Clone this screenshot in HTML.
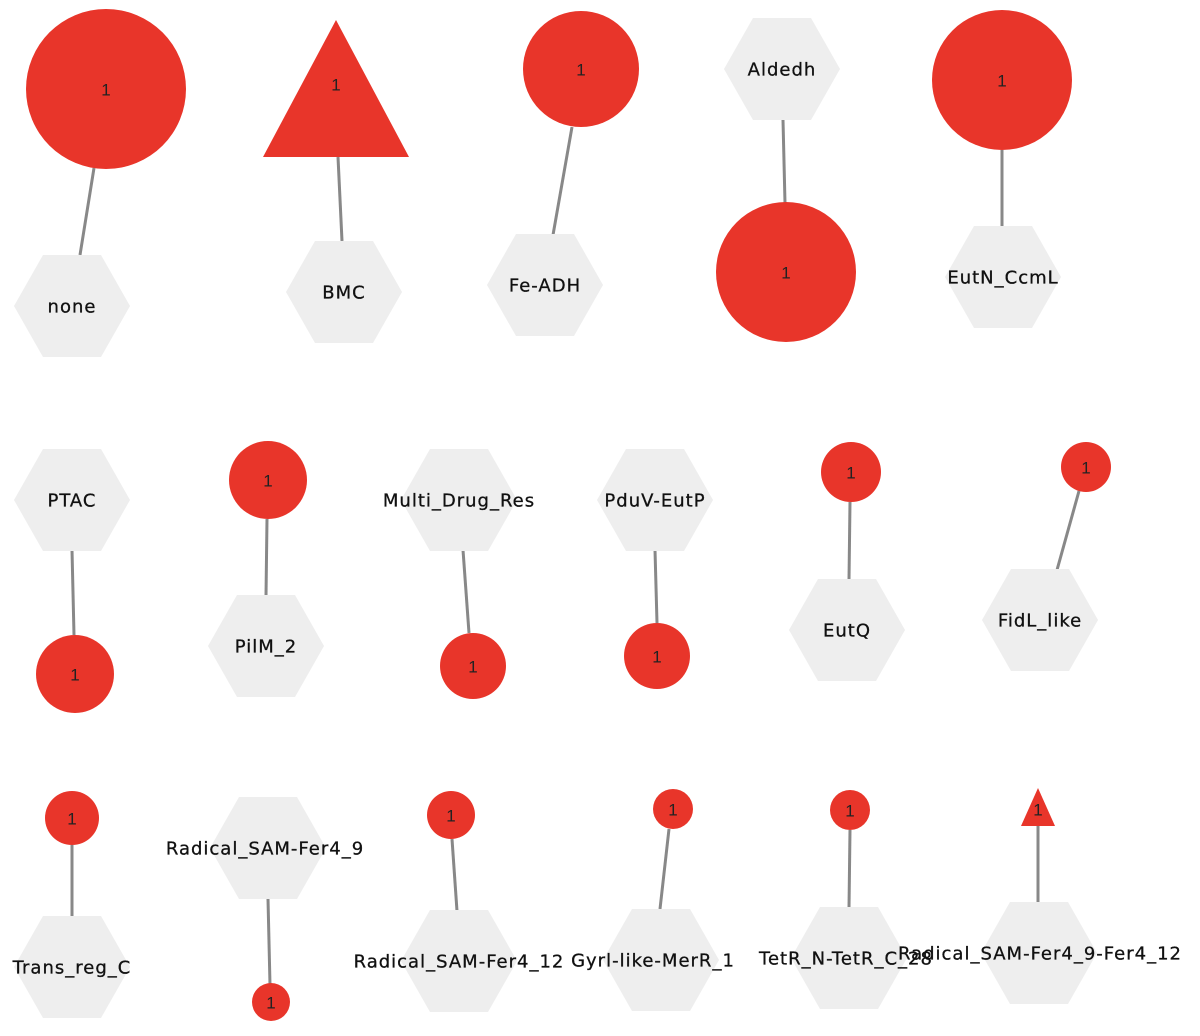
<!DOCTYPE html>
<html><head><meta charset="utf-8"><style>
html,body{margin:0;padding:0;background:#fff;}
svg{display:block;}
text{font-family:"Liberation Sans",Arial,sans-serif;fill:#222;text-anchor:middle;dominant-baseline:central;}
.l text{font-family:"DejaVu Sans","Liberation Sans",sans-serif;font-size:18px;letter-spacing:1px;fill:#111;stroke:#111;stroke-width:0.3px;}
.n{font-size:17px;}
line{stroke:#888;stroke-width:3;}
.r{fill:#e8352a;}
.h{fill:#eeeeee;}
</style></head><body>
<svg width="1200" height="1036" viewBox="0 0 1200 1036" xmlns="http://www.w3.org/2000/svg">
<defs>
<polygon id="hx" points="-58,0 -29,-51 29,-51 58,0 29,51 -29,51"/>
</defs>
<line x1="94" y1="168" x2="80" y2="255"/>
<line x1="338" y1="157" x2="342" y2="241"/>
<line x1="572" y1="127" x2="553" y2="235"/>
<line x1="783" y1="120" x2="785" y2="203"/>
<line x1="1002" y1="150" x2="1002" y2="227"/>
<line x1="72" y1="550" x2="74" y2="635"/>
<line x1="267" y1="519" x2="266" y2="596"/>
<line x1="463" y1="550" x2="469" y2="633"/>
<line x1="655" y1="550" x2="657" y2="623"/>
<line x1="850" y1="502" x2="849" y2="580"/>
<line x1="1079" y1="491" x2="1057" y2="570"/>
<line x1="72" y1="845" x2="72" y2="916"/>
<line x1="268" y1="899" x2="270" y2="985"/>
<line x1="452" y1="839" x2="457" y2="911"/>
<line x1="669" y1="829" x2="660" y2="909"/>
<line x1="850" y1="830" x2="849" y2="908"/>
<line x1="1038" y1="826" x2="1038" y2="903"/>
<use href="#hx" class="h" x="72" y="306"/>
<use href="#hx" class="h" x="344" y="292"/>
<use href="#hx" class="h" x="545" y="285"/>
<use href="#hx" class="h" x="782" y="69"/>
<use href="#hx" class="h" x="1003" y="277"/>
<use href="#hx" class="h" x="72" y="500"/>
<use href="#hx" class="h" x="266" y="646"/>
<use href="#hx" class="h" x="459" y="500"/>
<use href="#hx" class="h" x="655" y="500"/>
<use href="#hx" class="h" x="847" y="630"/>
<use href="#hx" class="h" x="1040" y="620"/>
<use href="#hx" class="h" x="72" y="967"/>
<use href="#hx" class="h" x="268" y="848"/>
<use href="#hx" class="h" x="459" y="961"/>
<use href="#hx" class="h" x="661" y="960"/>
<use href="#hx" class="h" x="849" y="958"/>
<use href="#hx" class="h" x="1039" y="953"/>
<circle class="r" cx="106" cy="89" r="80"/>
<polygon class="r" points="336,20 263,157 409,157"/>
<circle class="r" cx="581" cy="69" r="58"/>
<circle class="r" cx="786" cy="272" r="70"/>
<circle class="r" cx="1002" cy="80" r="70"/>
<circle class="r" cx="75" cy="674" r="39"/>
<circle class="r" cx="268" cy="480" r="39"/>
<circle class="r" cx="473" cy="666" r="33"/>
<circle class="r" cx="657" cy="656" r="33"/>
<circle class="r" cx="851" cy="472" r="30"/>
<circle class="r" cx="1086" cy="467" r="25"/>
<circle class="r" cx="72" cy="818" r="27"/>
<circle class="r" cx="271" cy="1002" r="19"/>
<circle class="r" cx="451" cy="815" r="24"/>
<circle class="r" cx="673" cy="809" r="20"/>
<circle class="r" cx="850" cy="810" r="20"/>
<polygon class="r" points="1038,788 1021,826 1055,826"/>
<g class="n">
<text x="106" y="90">1</text><text x="336" y="85">1</text><text x="581" y="70">1</text>
<text x="786" y="273">1</text><text x="1002" y="81">1</text><text x="75" y="675">1</text>
<text x="268" y="481">1</text><text x="473" y="667">1</text><text x="657" y="657">1</text>
<text x="851" y="473">1</text><text x="1086" y="468">1</text><text x="72" y="819">1</text>
<text x="271" y="1003">1</text><text x="451" y="816">1</text><text x="673" y="810">1</text>
<text x="850" y="811">1</text><text x="1038" y="810">1</text>
</g>
<g class="l">
<text x="72" y="307">none</text>
<text x="344" y="293">BMC</text>
<text x="545" y="286">Fe-ADH</text>
<text x="782" y="70">Aldedh</text>
<text x="1003" y="278">EutN_CcmL</text>
<text x="72" y="501">PTAC</text>
<text x="266" y="647">PilM_2</text>
<text x="459" y="501">Multi_Drug_Res</text>
<text x="655" y="501">PduV-EutP</text>
<text x="847" y="631">EutQ</text>
<text x="1040" y="621">FidL_like</text>
<text x="72" y="968">Trans_reg_C</text>
<text x="265" y="849">Radical_SAM-Fer4_9</text>
<text x="459" y="962">Radical_SAM-Fer4_12</text>
<text x="653" y="961">Gyrl-like-MerR_1</text>
<text x="846" y="959">TetR_N-TetR_C_28</text>
<text x="1040" y="954">Radical_SAM-Fer4_9-Fer4_12</text>
</g>
</svg>
</body></html>
